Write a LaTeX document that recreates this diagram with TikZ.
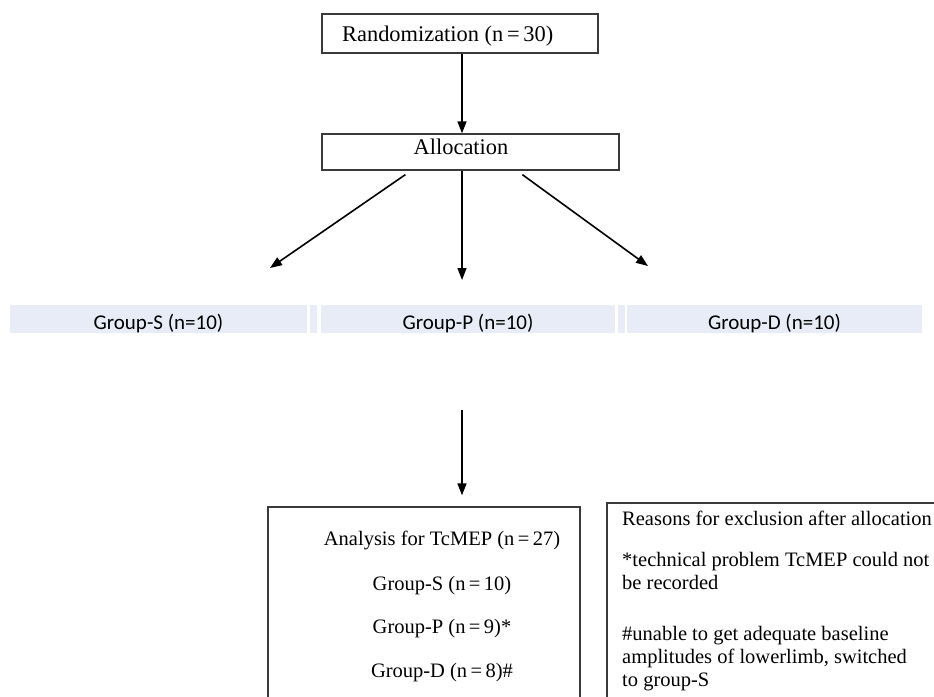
\documentclass[tikz,border=0pt]{standalone}
\usepackage{fontspec}
\setmainfont{Liberation Serif}
\newfontfamily\bandfont{Carlito}
\usetikzlibrary{arrows.meta,calc}
\definecolor{bandblue}{HTML}{E8ECF7}
\definecolor{boxline}{HTML}{3A3A3A}
\begin{document}
\begin{tikzpicture}[x=1pt,y=-1pt,
  box/.style={draw=boxline, line width=1.3pt, inner sep=0pt, fill=none},
  arr/.style={-{Triangle[length=12pt,width=9pt]}, line width=1.6pt, black},
  cell/.style={fill=bandblue, inner sep=0pt, minimum height=28pt},
  toptext/.style={font=\fontsize{22.4}{26}\selectfont, inner sep=0pt},
  bottext/.style={font=\fontsize{20.5}{24}\selectfont, inner sep=0pt},
  bandtext/.style={font=\bandfont\fontsize{21}{25}\selectfont, inner sep=0pt, anchor=base}]
\useasboundingbox (0,0) rectangle (934,696);
\clip (0,0) rectangle (934,696);
\fill[white] (0,0) rectangle (934,696);

% top boxes
\node[box, minimum width=276pt, minimum height=39pt] (rand) at (460,33.5) {};
\node[toptext, anchor=base west] (randt) at (342,41) {Randomization (n\,=\,30)};
\node[box, minimum width=297pt, minimum height=36pt] (alloc) at (470.5,152) {};
\node[toptext, anchor=base] (alloct) at (461,154) {Allocation};

\coordinate (x1) at (462,0);
\draw[arr] (x1 |- rand.south) -- (x1 |- alloc.north);

% group band
\node[cell, minimum width=297pt] (gs) at (158.5,319) {};
\node[cell, minimum width=7pt] (g1) at (313.5,319) {};
\node[cell, minimum width=294pt] (gp) at (468,319) {};
\node[cell, minimum width=7pt] (g2) at (621.5,319) {};
\node[cell, minimum width=295pt] (gd) at (774.5,319) {};
\node[bandtext] (gst) at (158.5,329) {Group-S (n=10)};
\node[bandtext] (gpt) at (468,329) {Group-P (n=10)};
\node[bandtext] (gdt) at (774.5,329) {Group-D (n=10)};

\coordinate (tipS) at (270,268);
\coordinate (tipP) at (462,280);
\coordinate (tipD) at (648,266);
\draw[arr] ($(alloc.south west)+(84,4)$) -- (tipS);
\draw[arr] (x1 |- alloc.south) -- (tipP);
\draw[arr] ($(alloc.south west)+(201,4)$) -- (tipD);

% bottom boxes
\node[box, minimum width=312pt, minimum height=253pt] (anal) at (424,633.5) {};
\node[box, minimum width=353pt, minimum height=257pt] (reas) at (783.5,631.5) {};

\coordinate (bstart) at (462,410);
\draw[arr] (bstart) -- ($(x1 |- anal.north)+(0,-11)$);

\node[bottext, anchor=base] (a1) at (442,545) {Analysis for TcMEP (n\,=\,27)};
\node[bottext, anchor=base] (a2) at (442,590) {Group-S (n\,=\,10)};
\node[bottext, anchor=base] (a3) at (442,633) {Group-P (n\,=\,9)*};
\node[bottext, anchor=base] (a4) at (442,677) {Group-D (n\,=\,8)\#};

\node[bottext, anchor=base west] (r1) at (622,525) {Reasons for exclusion after allocation};
\node[bottext, anchor=base west] (r2) at (622,566) {*technical problem TcMEP could not};
\node[bottext, anchor=base west] (r3) at (622,589) {be recorded};
\node[bottext, anchor=base west] (r4) at (622,640) {\#unable to get adequate baseline};
\node[bottext, anchor=base west] (r5) at (622,663) {amplitudes of lowerlimb, switched};
\node[bottext, anchor=base west] (r6) at (622,686) {to group-S};
\end{tikzpicture}
\end{document}
